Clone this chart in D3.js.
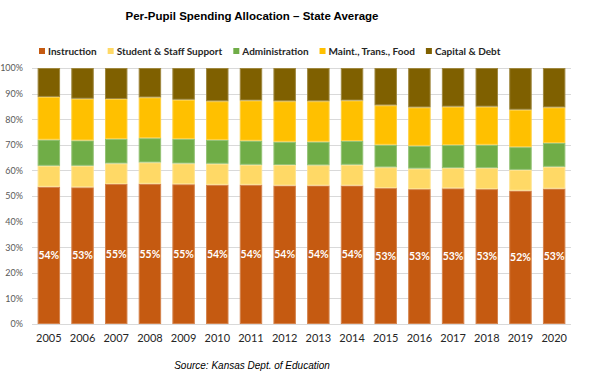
<!DOCTYPE html>
<html>
<head>
<meta charset="utf-8">
<script src="https://cdn.jsdelivr.net/npm/d3@7"></script>
<style>
  body { margin: 0; background: #fff; }
  #chart { width: 589px; height: 381px; }
  .grid line { stroke: #d9d9d9; stroke-width: 1; }
  .axis text { font-family: Lato, "Liberation Sans", sans-serif; }
</style>
</head>
<body>
<div id="chart"></div>
<script>
// Set data (percent of per-pupil spending)
var years = ["2005","2006","2007","2008","2009","2010","2011","2012","2013","2014","2015","2016","2017","2018","2019","2020"];
var seriesNames = ["Instruction", "Student & Staff Support", "Administration", "Maint., Trans., Food", "Capital & Debt"];
var colors = ["#c55a11", "#ffd966", "#70ad47", "#ffc000", "#7f6000"];

var instruction = [53.6, 53.4, 54.7, 54.8, 54.6, 54.4, 54.4, 54.1, 54.1, 54.1, 53.1, 52.7, 53.0, 52.7, 52.1, 52.9];
var support     = [8.2, 8.4, 8.0, 8.3, 8.1, 8.2, 7.8, 8.0, 7.9, 8.1, 8.1, 8.0, 7.9, 8.2, 8.1, 8.5];
var admin       = [10.2, 9.9, 9.6, 9.5, 9.6, 9.3, 9.4, 9.1, 9.2, 9.3, 8.8, 8.9, 9.0, 9.1, 8.9, 9.3];
var maint       = [16.7, 16.3, 15.6, 15.9, 15.3, 15.1, 15.7, 15.8, 15.8, 15.8, 15.4, 15.0, 15.0, 14.9, 14.6, 13.9];
var capital     = [11.3, 12.0, 12.1, 11.5, 12.4, 13.0, 12.7, 13.0, 13.0, 12.7, 14.6, 15.4, 15.1, 15.1, 16.3, 15.4];
var labels      = ["54%","53%","55%","55%","55%","54%","54%","54%","54%","54%","53%","53%","53%","53%","52%","53%"];

var yTicks = [0, 10, 20, 30, 40, 50, 60, 70, 80, 90, 100];

var width = 589, height = 381;
var plotLeft = 32, plotRight = 571, plotTop = 68, plotBottom = 324;

var rows = years.map(function(yr, i) {
    return {year: yr, s0: instruction[i], s1: support[i], s2: admin[i], s3: maint[i], s4: capital[i]};
});

var stack = d3.stack().keys(["s0", "s1", "s2", "s3", "s4"]);
var stacked = stack(rows);

var svg = d3.select("#chart")
    .append("svg")
    .attr("width", width)
    .attr("height", height);

var xScale = d3.scaleBand().domain(years).range([plotLeft, plotRight]).paddingInner(1 / 3).paddingOuter(1 / 6);
var yScale = d3.scaleLinear().domain([0, 100]).range([plotBottom, plotTop]);

// gridlines
svg.append("g")
    .attr("class", "grid")
    .selectAll("line")
    .data(yTicks)
    .enter().append("line")
    .attr("x1", plotLeft)
    .attr("x2", plotRight)
    .attr("y1", function(d) { return Math.round(yScale(d)) + 0.5; })
    .attr("y2", function(d) { return Math.round(yScale(d)) + 0.5; });

// y axis labels
var yAxis = d3.axisLeft(yScale)
    .tickValues(yTicks)
    .tickSize(0)
    .tickPadding(9)
    .tickFormat(function(d) { return d + "%"; });

svg.append("g")
    .attr("class", "axis axis--y")
    .attr("transform", "translate(" + plotLeft + ",0)")
    .call(yAxis)
    .call(function(g) { g.select(".domain").remove(); })
    .selectAll("text")
    .attr("fill", "#595959")
    .style("font-size", "9px");

// bars
svg.append("g")
    .selectAll("g")
    .data(stacked)
    .enter().append("g")
    .attr("fill", function(d, i) { return colors[i]; })
    .attr("stroke", function(d, i) { return d3.interpolateRgb(colors[i], "#ffffff")(0.25); })
    .selectAll("rect")
    .data(function(d) { return d; })
    .enter().append("rect")
    .attr("x", function(d) { return xScale(d.data.year) + 0.5; })
    .attr("width", xScale.bandwidth() - 1)
    .attr("y", function(d) { return yScale(d[1]) + 0.5; })
    .attr("height", function(d) { return yScale(d[0]) - yScale(d[1]) - 1; })
    .attr("stroke-width", 1);

// x axis
var xAxis = d3.axisBottom(xScale).tickSize(0).tickPadding(10);

svg.append("g")
    .attr("class", "axis axis--x")
    .attr("transform", "translate(0," + plotBottom + ")")
    .call(xAxis)
    .call(function(g) { g.select(".domain").remove(); })
    .selectAll("text")
    .attr("fill", "#262626")
    .style("font-size", "11px");

// data labels inside instruction bars
svg.append("g")
    .selectAll("text")
    .data(stacked[0])
    .enter().append("text")
    .attr("x", function(d) { return xScale(d.data.year) + xScale.bandwidth() / 2; })
    .attr("y", function(d) { return (yScale(d[0]) + yScale(d[1])) / 2; })
    .attr("dy", "0.35em")
    .attr("text-anchor", "middle")
    .attr("fill", "#ffffff")
    .style("font-family", "Lato, 'Liberation Sans', sans-serif")
    .style("font-weight", "bold")
    .style("font-size", "10.5px")
    .text(function(d, i) { return labels[i]; });

// title
svg.append("text")
    .attr("x", 252)
    .attr("y", 20)
    .attr("text-anchor", "middle")
    .style("font-family", "'Liberation Sans', Arial, sans-serif")
    .style("font-weight", "bold")
    .style("font-size", "11.5px")
    .attr("fill", "#000")
    .text("Per-Pupil Spending Allocation \u2013 State Average");

// legend
var legend = svg.append("g").attr("transform", "translate(0,51)");
var lx = 39;
seriesNames.forEach(function(name, i) {
    legend.append("rect")
        .attr("x", lx)
        .attr("y", -3)
        .attr("width", 6)
        .attr("height", 6)
        .attr("fill", colors[i]);
    var t = legend.append("text")
        .attr("x", lx + 9)
        .attr("y", 0)
        .attr("dy", "0.35em")
        .attr("fill", "#262626")
        .style("font-family", "Lato, 'Liberation Sans', sans-serif")
        .style("font-weight", "bold")
        .style("font-size", "10px")
        .text(name);
    lx += 9 + t.node().getComputedTextLength() + 11;
});

// source
svg.append("text")
    .attr("x", 252)
    .attr("y", 369)
    .attr("text-anchor", "middle")
    .style("font-family", "'Liberation Sans', Arial, sans-serif")
    .style("font-style", "italic")
    .style("font-size", "10px")
    .attr("fill", "#000")
    .text("Source: Kansas Dept. of Education");
</script>
</body>
</html>
